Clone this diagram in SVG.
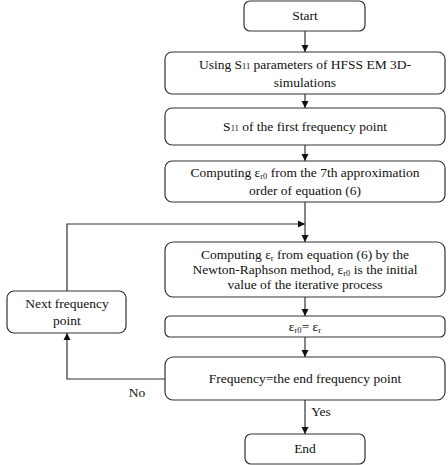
<svg xmlns="http://www.w3.org/2000/svg" width="448" height="465" viewBox="0 0 448 465">
<style>
.b{fill:#fff;stroke:#333;stroke-width:1.2}
.t{font-family:"Liberation Serif","Times New Roman",serif;font-size:13.5px;fill:#111;text-anchor:middle}
.s{font-size:8.5px}
.c{fill:none;stroke:#333;stroke-width:1.2}
</style>
<defs>
<marker id="a" viewBox="0 0 10 10" refX="10" refY="5" markerWidth="7" markerHeight="8" markerUnits="userSpaceOnUse" orient="auto">
<path d="M0,0L10,5L0,10z" fill="#111"/>
</marker>
</defs>
<rect width="448" height="465" fill="#fff"/>
<g id="connectors">
<line class="c" x1="305" y1="31" x2="305" y2="52" marker-end="url(#a)"/>
<line class="c" x1="305" y1="94" x2="305" y2="108" marker-end="url(#a)"/>
<line class="c" x1="305" y1="145" x2="305" y2="161" marker-end="url(#a)"/>
<line class="c" x1="305" y1="202" x2="305" y2="242" marker-end="url(#a)"/>
<line class="c" x1="305" y1="297" x2="305" y2="316" marker-end="url(#a)"/>
<line class="c" x1="305" y1="337" x2="305" y2="357" marker-end="url(#a)"/>
<line class="c" x1="305" y1="400" x2="305" y2="434" marker-end="url(#a)"/>
<polyline class="c" points="165,379 67,379 67,333" marker-end="url(#a)"/>
<polyline class="c" points="67,291 67,224 305,224" marker-end="url(#a)"/>
<text class="t" x="321" y="416">Yes</text>
<text class="t" x="137" y="397">No</text>
</g>
<g id="start"><rect class="b" x="244" y="1" width="121" height="30" rx="6"/><text class="t" x="305" y="20">Start</text></g>
<g id="using"><rect class="b" x="165" y="52" width="280" height="42" rx="7"/><text class="t" x="305" y="69">Using S<tspan class="s">11</tspan> parameters of HFSS EM 3D-</text><text class="t" x="305" y="87">simulations</text></g>
<g id="s11"><rect class="b" x="165" y="108" width="280" height="37" rx="7"/><text class="t" x="305" y="131">S<tspan class="s">11</tspan> of the first frequency point</text></g>
<g id="comp0"><rect class="b" x="165" y="161" width="280" height="41" rx="7"/><text class="t" x="305" y="177">Computing ε<tspan class="s" dy="2">r0</tspan><tspan dy="-2"> from the 7th approximation</tspan></text><text class="t" x="305" y="195">order  of equation (6)</text></g>
<g id="comp"><rect class="b" x="165" y="242" width="280" height="55" rx="8"/><text class="t" x="305" y="259">Computing ε<tspan class="s" dy="2">r</tspan><tspan dy="-2">  from equation (6) by the</tspan></text><text class="t" x="305" y="274">Newton-Raphson method, ε<tspan class="s" dy="2">r0</tspan><tspan dy="-2"> is the initial</tspan></text><text class="t" x="305" y="289">value of the iterative process</text></g>
<g id="assign"><rect class="b" x="165" y="316" width="280" height="21" rx="5"/><text class="t" x="305" y="331">ε<tspan class="s" dy="2">r0</tspan><tspan dy="-2">= ε</tspan><tspan class="s" dy="2">r</tspan></text></g>
<g id="freq"><rect class="b" x="165" y="357" width="280" height="43" rx="8"/><text class="t" x="305" y="383">Frequency=the end frequency point</text></g>
<g id="end"><rect class="b" x="245" y="434" width="120" height="30" rx="6"/><text class="t" x="305" y="453">End</text></g>
<g id="next"><rect class="b" x="7" y="291" width="119" height="42" rx="7"/><text class="t" x="67" y="308">Next frequency</text><text class="t" x="67" y="325">point</text></g>
</svg>
